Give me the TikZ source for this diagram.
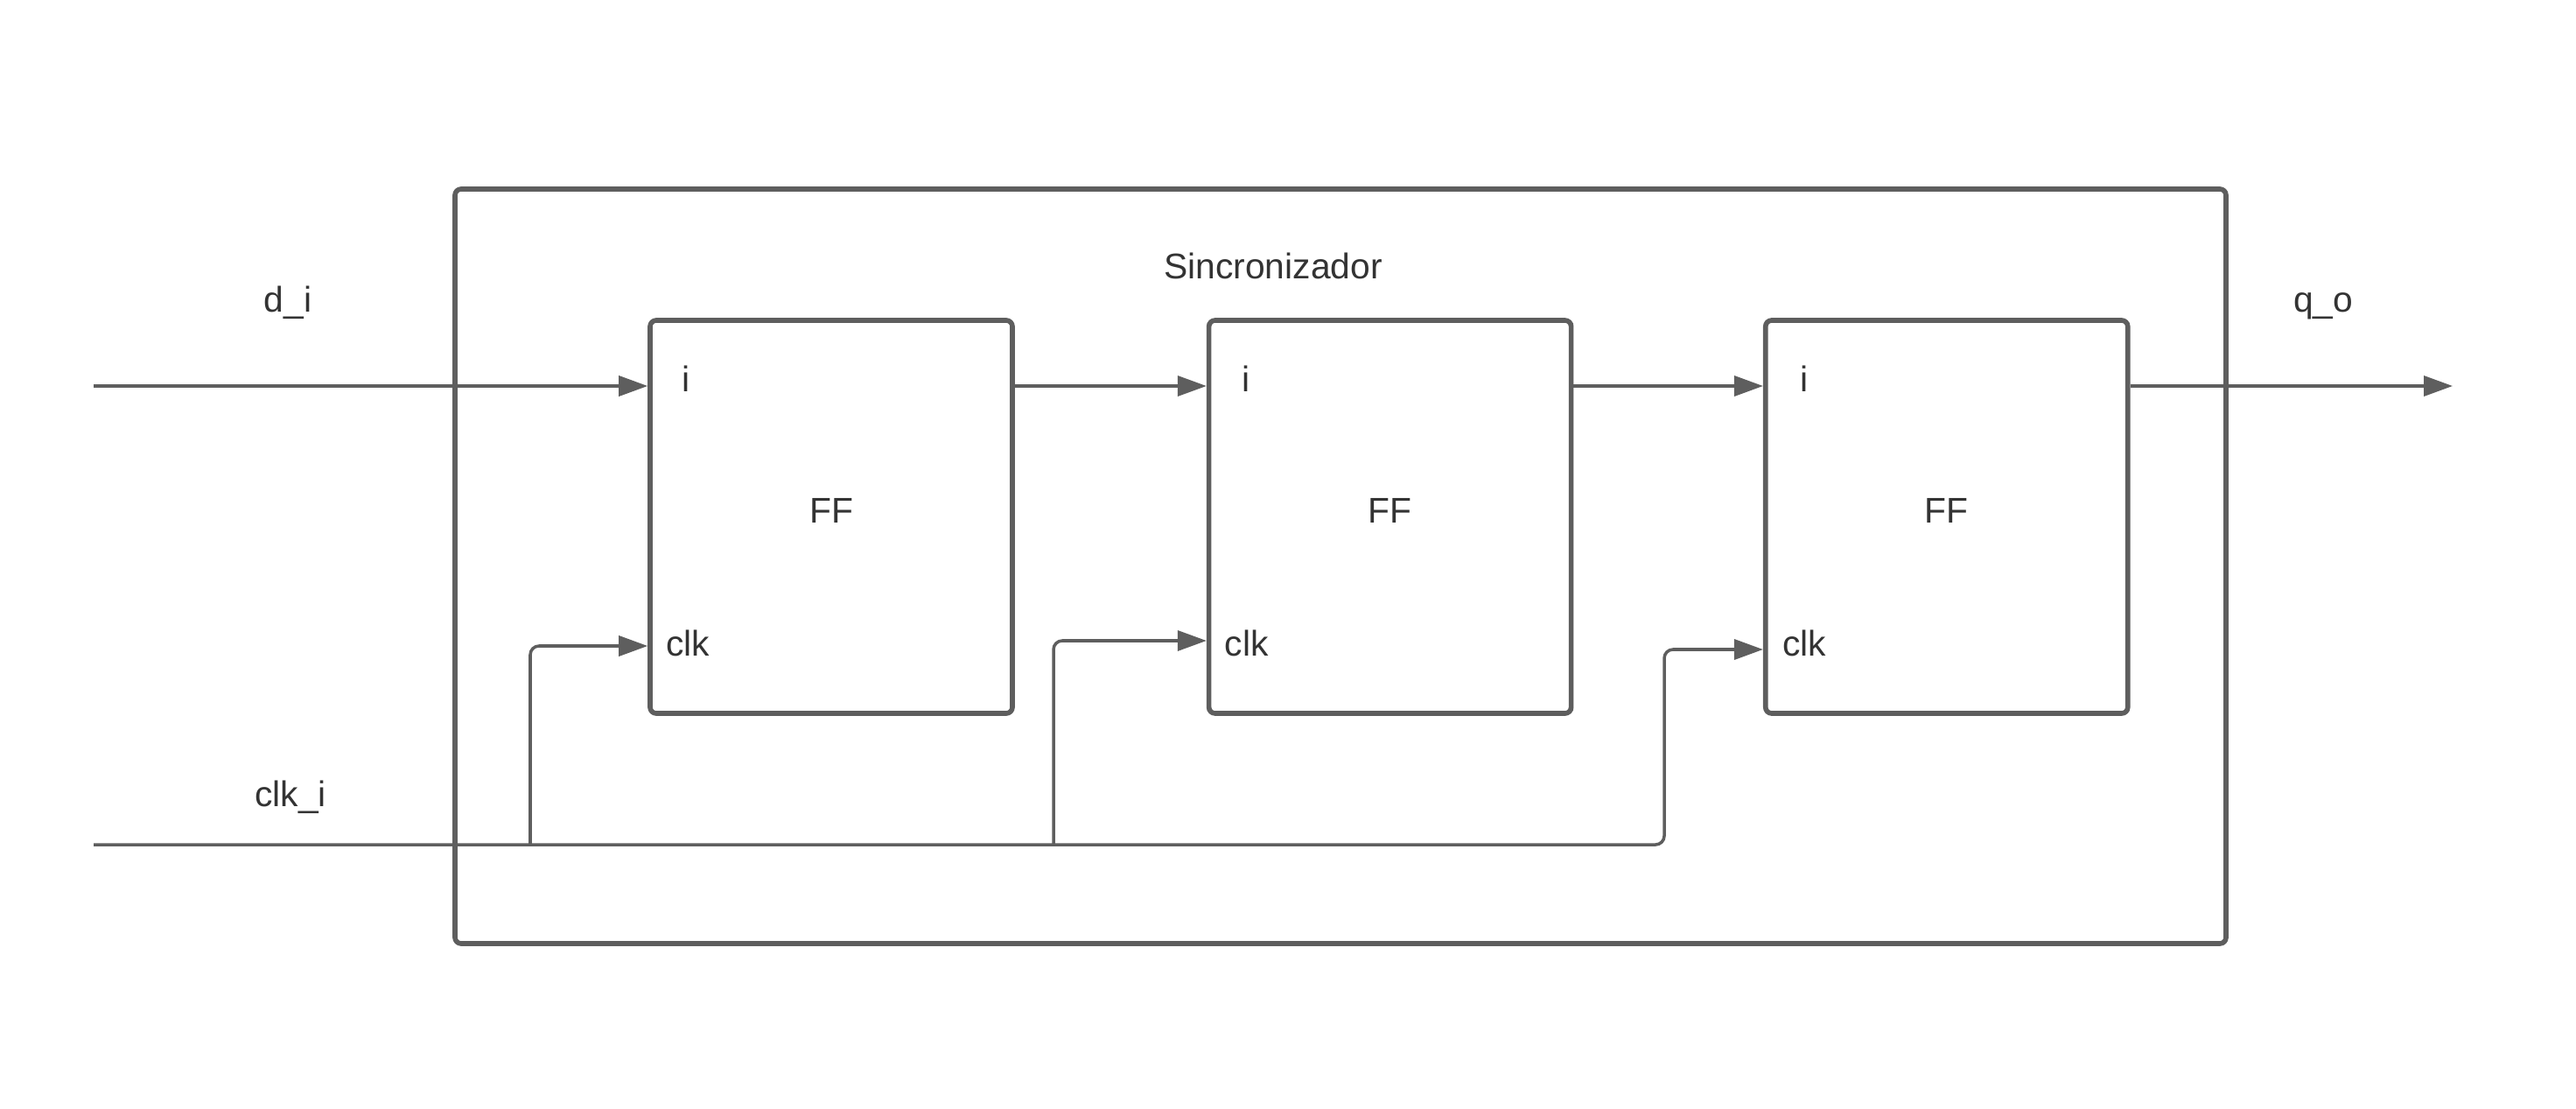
\documentclass[tikz,border=0pt]{standalone}
\usepackage{fontspec}
\setmainfont{Liberation Sans}
\usetikzlibrary{positioning,arrows.meta}
\definecolor{linegray}{HTML}{5E5E5E}
\definecolor{textgray}{HTML}{333333}

\begin{document}
\begin{tikzpicture}[
    font=\fontsize{11.6}{14}\selectfont,
    text=textgray,
    block/.style={rectangle, draw=linegray, line width=1.6pt, rounded corners=0.07cm, minimum width=4.14cm, minimum height=4.49cm, text depth=0.15cm},
    frame/.style={rectangle, draw=linegray, line width=1.6pt, rounded corners=0.07cm, minimum width=20.24cm, minimum height=8.62cm},
    port/.style={inner sep=0pt},
    wire/.style={draw=linegray, line width=1pt, rounded corners=0.1cm},
    sig/.style={wire, -{Triangle[length=0.33cm, width=0.23cm]}},
]
    \useasboundingbox (0,0) rectangle (29.44,12.66);
    %node
    \node[frame] (sync) at (15.32,6.19) {};
    \node (title) at (14.55,9.62) {Sincronizador};
    \node[block] (ff1) at (9.50,6.755) {FF};
    \node[block] (ff2) [right=2.19cm of ff1] {FF};
    \node[block] (ff3) [right=2.165cm of ff2] {FF};
    \node[port] (i1) at ([shift={(0.44,-0.70)}]ff1.north west) {i};
    \node[port] (i2) at ([shift={(0.45,-0.70)}]ff2.north west) {i};
    \node[port] (i3) at ([shift={(0.47,-0.70)}]ff3.north west) {i};
    \node[port] (clk1) at ([shift={(0.46,0.83)}]ff1.south west) {clk};
    \node[port] (clk2) at ([shift={(0.46,0.83)}]ff2.south west) {clk};
    \node[port] (clk3) at ([shift={(0.47,0.83)}]ff3.south west) {clk};
    \node (dlabel) at (3.29,9.20) {d\_i};
    \node (qlabel) at (26.55,9.165) {q\_o};
    \node (clklabel) at (3.32,3.55) {clk\_i};

    \coordinate (din) at (1.07,8.25);
    \coordinate (qout) at (28.03,8.25);
    \coordinate (clkin) at (1.07,3.01);
    \coordinate (tap1) at (6.06,3.01);
    \coordinate (tap2) at (12.04,3.01);
    \coordinate (tap3) at (19.02,3.01);
    \coordinate (k1) at (0,5.28);
    \coordinate (k2) at (0,5.34);
    \coordinate (k3) at (0,5.24);

    %lines
    \draw[sig] (din) -- (din -| ff1.west);
    \draw[sig] (din -| ff1.east) -- (din -| ff2.west);
    \draw[sig] (din -| ff2.east) -- (din -| ff3.west);
    \draw[sig] (din -| ff3.east) -- (qout);
    \draw[sig] (clkin) -- (tap3) |- (k3 -| ff3.west);
    \draw[sig] (tap1) |- (k1 -| ff1.west);
    \draw[sig] (tap2) |- (k2 -| ff2.west);
\end{tikzpicture}
\end{document}
